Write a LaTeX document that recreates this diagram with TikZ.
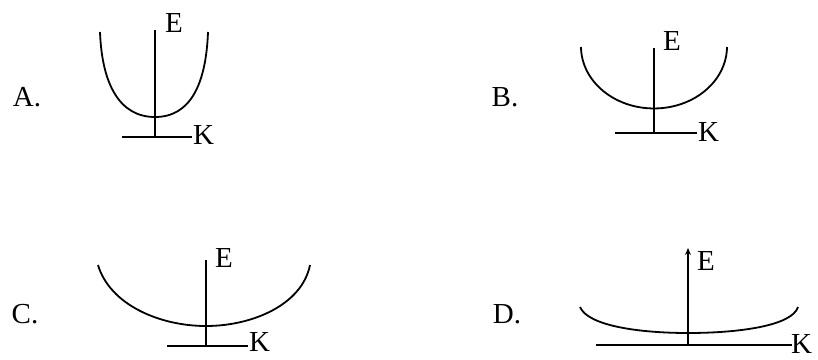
\documentclass[tikz,border=0pt]{standalone}
\usepackage{fontspec}
\setmainfont{Liberation Serif}
\usetikzlibrary{arrows.meta}
\begin{document}
\begin{tikzpicture}[x=1pt,y=-1pt,
  ln/.style={line width=1.8pt,black},
  lbl/.style={inner sep=0pt,font=\fontsize{29}{32}\selectfont}]
\useasboundingbox (0,0) rectangle (818,359);
% ---------- A ----------
\node[lbl] (la) at (27,97) {A.};
\coordinate (a0) at (155,137); \coordinate (a1) at (155,30);
\coordinate (ak0) at (122,137); \coordinate (ak1) at (192,137);
\draw[ln] (a0) -- (a1);
\draw[ln] (ak0) -- (ak1);
\node[lbl,anchor=west] (ak) at (193,135) {K};
\node[lbl] (ae) at (174,23) {E};
\coordinate (al) at (100,32); \coordinate (ab) at (155,117); \coordinate (ar) at (208,32);
\draw[ln] (al) .. controls (102,85) and (120,117) .. (ab) .. controls (190,117) and (206,85) .. (ar);
% ---------- B ----------
\node[lbl] (lb) at (505,97) {B.};
\coordinate (b0) at (654,133); \coordinate (b1) at (654,48);
\coordinate (bk0) at (615,133); \coordinate (bk1) at (697,133);
\draw[ln] (b0) -- (b1);
\draw[ln] (bk0) -- (bk1);
\node[lbl,anchor=west] (bk) at (698,132) {K};
\node[lbl] (be) at (672,41) {E};
\coordinate (bl) at (581,47);
\draw[ln] (bl) arc[start angle=180.5,end angle=359.5,x radius=73,y radius=-62];
% ---------- C ----------
\node[lbl] (lc) at (25,314) {C.};
\coordinate (c0) at (206,346); \coordinate (c1) at (206,260);
\coordinate (ck0) at (167,346); \coordinate (ck1) at (248,346);
\draw[ln] (c0) -- (c1);
\draw[ln] (ck0) -- (ck1);
\node[lbl,anchor=west] (ck) at (249,342) {K};
\node[lbl] (ce) at (224,258) {E};
\coordinate (cl) at (98,265); \coordinate (cb) at (206,326); \coordinate (cr) at (310,265);
\draw[ln] (cl) .. controls (110,305) and (160,326) .. (cb) .. controls (252,326) and (302,305) .. (cr);
% ---------- D ----------
\node[lbl] (ld) at (507,314) {D.};
\coordinate (d0) at (688,345); \coordinate (d1) at (688,248);
\coordinate (dk0) at (596,345); \coordinate (dk1) at (792,345);
\draw[ln,-{Stealth[length=7pt,width=6pt]}] (d0) -- (d1);
\draw[ln] (dk0) -- (dk1);
\node[lbl,anchor=west] (dk) at (791,344) {K};
\node[lbl] (de) at (706,261) {E};
\coordinate (dl) at (580,307); \coordinate (db) at (688,333); \coordinate (dr) at (798,307);
\draw[ln] (dl) .. controls (588,326) and (640,333) .. (db) .. controls (738,333) and (792,326) .. (dr);
\end{tikzpicture}
\end{document}
